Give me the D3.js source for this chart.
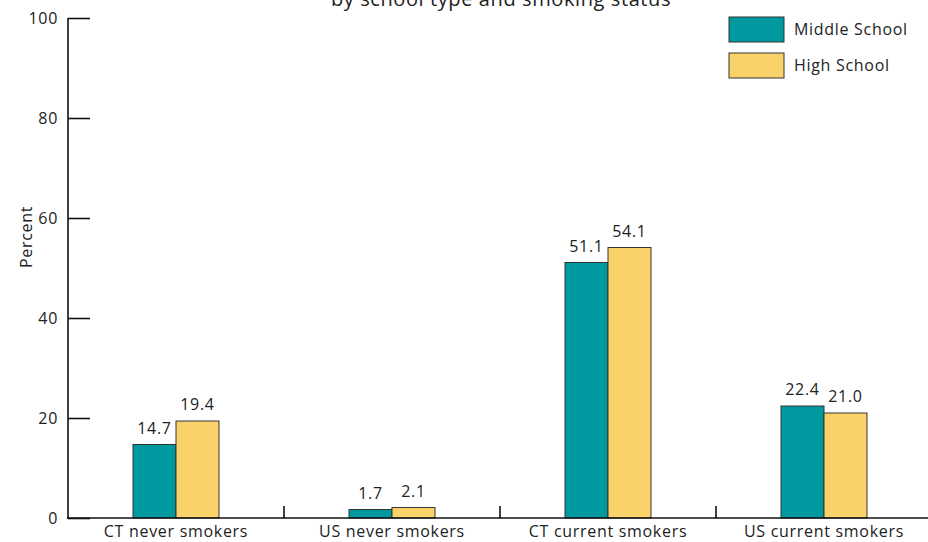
<!DOCTYPE html>
<html><head><meta charset="utf-8">
<script src="https://cdn.jsdelivr.net/npm/d3@7"></script>
<style>body{margin:0;background:#fff}text{font-family:"Open Sans",sans-serif;fill:#222;letter-spacing:0.7px}</style>
</head><body><svg id="c" width="928" height="542"></svg>
<script>
const categories = ["CT never smokers","US never smokers","CT current smokers","US current smokers"];
const seriesNames = ["Middle School","High School"];
const middleSchool = [14.7, 1.7, 51.1, 22.4];
const highSchool = [19.4, 2.1, 54.1, 21.0];
const yTicks = [0,20,40,60,80,100];
const titleLine = "by school type and smoking status";
const colors = ["#00999f","#f9d26a"];

const svg = d3.select("#c");
const x0 = d3.scaleBand().domain(categories).range([68,932]).paddingInner(0).paddingOuter(0);
const y = d3.scaleLinear().domain([0,100]).range([518,18]);
const xs = d3.scaleBand().domain(seriesNames).range([0,86]);
const groupOff = (x0.bandwidth()-86)/2;
const data = [middleSchool, highSchool];

// title
svg.append("text").attr("x",501).attr("y",6).attr("text-anchor","middle").style("font-size","20px").style("letter-spacing","0.6px").text(titleLine);

// bars
categories.forEach((c,i)=>{
  seriesNames.forEach((s,j)=>{
    const v = data[j][i];
    const bx = x0(c)+groupOff+xs(s);
    svg.append("rect").attr("x",bx).attr("y",y(v)).attr("width",xs.bandwidth()).attr("height",y(0)-y(v))
      .attr("fill",colors[j]).attr("stroke","#333").attr("stroke-width",1);
    svg.append("text").attr("x",bx+xs.bandwidth()/2).attr("y",y(v)-11).attr("text-anchor","middle")
      .style("font-size","16px").text(v.toFixed(1));
  });
});

// y axis
const ya = svg.append("g").attr("transform","translate(68,0)")
  .call(d3.axisRight(y).tickValues(yTicks).tickSize(22).tickFormat(""));
ya.select(".domain").attr("stroke","#111").attr("stroke-width",1.6).attr("d","M0,18V519");
ya.selectAll(".tick line").attr("stroke","#111").attr("stroke-width",1.6);
yTicks.forEach(t=>{
  svg.append("text").attr("x",58).attr("y",y(t)+6).attr("text-anchor","end").style("font-size","16px").text(t);
});
svg.append("text").attr("transform","translate(32,237) rotate(-90)").attr("text-anchor","middle").style("font-size","16px").text("Percent");

// x axis
svg.append("line").attr("x1",67).attr("x2",928).attr("y1",518).attr("y2",518).attr("stroke","#111").attr("stroke-width",1.6);
categories.slice(1).forEach(c=>{
  svg.append("line").attr("x1",x0(c)).attr("x2",x0(c)).attr("y1",518).attr("y2",506).attr("stroke","#111").attr("stroke-width",1.6);
});
categories.forEach(c=>{
  svg.append("text").attr("x",x0(c)+x0.bandwidth()/2).attr("y",537).attr("text-anchor","middle").style("font-size","16px").text(c);
});

// legend
seriesNames.forEach((s,j)=>{
  svg.append("rect").attr("x",729).attr("y",17+j*36).attr("width",55).attr("height",25).attr("fill",colors[j]).attr("stroke","#333");
  svg.append("text").attr("x",794).attr("y",35+j*36).style("font-size","16px").text(s);
});
</script></body></html>
